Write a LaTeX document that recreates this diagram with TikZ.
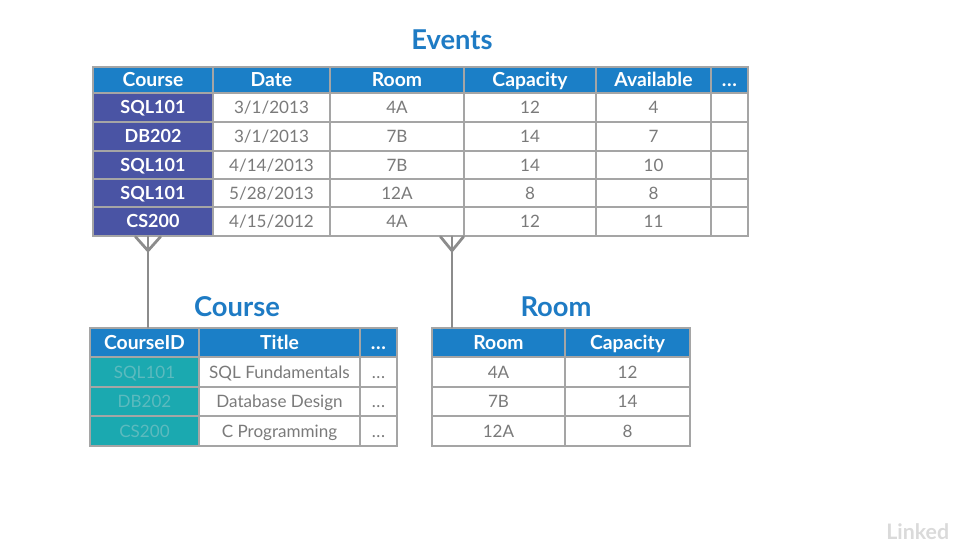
\documentclass[tikz,border=0pt]{standalone}
\usepackage{fontspec}
\setmainfont{Lato}
\definecolor{hdrblue}{HTML}{1B7FC7}
\definecolor{titleblue}{HTML}{1E7BC4}
\definecolor{keypurple}{HTML}{4A54A4}
\definecolor{keyteal}{HTML}{1BA9B0}
\definecolor{tealtext}{HTML}{5CBABE}
\definecolor{bodygray}{HTML}{7A7A7A}
\definecolor{bordergray}{HTML}{A5A5A5}
\definecolor{linkgray}{HTML}{8C8C8C}
\definecolor{wmgray}{HTML}{DADADA}
\newcommand\tcell[7]{\node[cellbox,#6,minimum width={(#4-#2)*0.75pt},minimum height={(#5-#3)*0.75pt}] (#1) at ({(#2+#4)/2},{(#3+#5)/2}) {#7};}
\newcommand\dotsx{{.}\kern0.5pt{.}\kern0.5pt{.}}
\tikzset{
  cellbox/.style={draw=bordergray,line width=1.1pt,rectangle,inner sep=0pt,font=\fontsize{12.8}{14}\selectfont,text=bodygray,fill=white,text height=9.2pt,text depth=0pt},
  hdr/.style={fill=hdrblue,text=white,font=\fontsize{14.5}{16}\selectfont\bfseries,text height=10.4pt},
  keyp/.style={fill=keypurple,text=white,font=\fontsize{13.5}{15}\selectfont\bfseries,text height=9.7pt},
  keyt/.style={fill=keyteal,text=tealtext,font=\fontsize{12.8}{14}\selectfont},
  tabtitle/.style={text=titleblue,font=\fontsize{20.5}{23}\selectfont\bfseries},
  link/.style={draw=linkgray,line width=2.1pt,line cap=round,line join=round},
}
\begin{document}
\begin{tikzpicture}[x=0.75pt,y=-0.75pt]
\useasboundingbox (0,0) rectangle (957,546);
% titles
\node[tabtitle] (tEvents) at (452,40) {Events};
\node[tabtitle] (tCourse) at (237,307) {Course};
\node[tabtitle] (tRoom) at (556,307) {Room};
% Events table
\tcell{e01}{93}{67}{213}{93}{hdr}{Course}
\tcell{e02}{213}{67}{330}{93}{hdr}{Date}
\tcell{e03}{330}{67}{464}{93}{hdr}{Room}
\tcell{e04}{464}{67}{596}{93}{hdr}{Capacity}
\tcell{e05}{596}{67}{711}{93}{hdr}{Available}
\tcell{e06}{711}{67}{748}{93}{hdr}{\dotsx}
\tcell{e11}{93}{93}{213}{122}{keyp}{SQL101}
\tcell{e12}{213}{93}{330}{122}{}{3/1/2013}
\tcell{e13}{330}{93}{464}{122}{}{4A}
\tcell{e14}{464}{93}{596}{122}{}{12}
\tcell{e15}{596}{93}{711}{122}{}{4}
\tcell{e16}{711}{93}{748}{122}{}{}
\tcell{e21}{93}{122}{213}{151}{keyp}{DB202}
\tcell{e22}{213}{122}{330}{151}{}{3/1/2013}
\tcell{e23}{330}{122}{464}{151}{}{7B}
\tcell{e24}{464}{122}{596}{151}{}{14}
\tcell{e25}{596}{122}{711}{151}{}{7}
\tcell{e26}{711}{122}{748}{151}{}{}
\tcell{e31}{93}{151}{213}{179}{keyp}{SQL101}
\tcell{e32}{213}{151}{330}{179}{}{4/14/2013}
\tcell{e33}{330}{151}{464}{179}{}{7B}
\tcell{e34}{464}{151}{596}{179}{}{14}
\tcell{e35}{596}{151}{711}{179}{}{10}
\tcell{e36}{711}{151}{748}{179}{}{}
\tcell{e41}{93}{179}{213}{207}{keyp}{SQL101}
\tcell{e42}{213}{179}{330}{207}{}{5/28/2013}
\tcell{e43}{330}{179}{464}{207}{}{12A}
\tcell{e44}{464}{179}{596}{207}{}{8}
\tcell{e45}{596}{179}{711}{207}{}{8}
\tcell{e46}{711}{179}{748}{207}{}{}
\tcell{e51}{93}{207}{213}{236}{keyp}{CS200}
\tcell{e52}{213}{207}{330}{236}{}{4/15/2012}
\tcell{e53}{330}{207}{464}{236}{}{4A}
\tcell{e54}{464}{207}{596}{236}{}{12}
\tcell{e55}{596}{207}{711}{236}{}{11}
\tcell{e56}{711}{207}{748}{236}{}{}
% Course table
\tcell{c01}{90}{328}{199}{357}{hdr}{CourseID}
\tcell{c02}{199}{328}{360}{357}{hdr}{Title}
\tcell{c03}{360}{328}{397}{357}{hdr}{\dotsx}
\tcell{c11}{90}{357}{199}{387}{keyt}{SQL101}
\tcell{c12}{199}{357}{360}{387}{}{SQL Fundamentals}
\tcell{c13}{360}{357}{397}{387}{}{\dotsx}
\tcell{c21}{90}{387}{199}{416}{keyt}{DB202}
\tcell{c22}{199}{387}{360}{416}{}{Database Design}
\tcell{c23}{360}{387}{397}{416}{}{\dotsx}
\tcell{c31}{90}{416}{199}{446}{keyt}{CS200}
\tcell{c32}{199}{416}{360}{446}{}{C Programming}
\tcell{c33}{360}{416}{397}{446}{}{\dotsx}
% Room table
\tcell{r01}{432}{328}{565}{357}{hdr}{Room}
\tcell{r02}{565}{328}{690}{357}{hdr}{Capacity}
\tcell{r11}{432}{357}{565}{387}{}{4A}
\tcell{r12}{565}{357}{690}{387}{}{12}
\tcell{r21}{432}{387}{565}{416}{}{7B}
\tcell{r22}{565}{387}{690}{416}{}{14}
\tcell{r31}{432}{416}{565}{446}{}{12A}
\tcell{r32}{565}{416}{690}{446}{}{8}
% connectors with crow's feet
\coordinate (fkc) at (148,0);
\coordinate (fkr) at (452,0);
\draw[link] (e51.south -| fkc) -- (c01.north -| fkc);
\draw[link] ([xshift=-12.5*0.75pt]e51.south -| fkc) -- ([yshift=-14*0.75pt]e51.south -| fkc) -- ([xshift=12.5*0.75pt]e51.south -| fkc);
\draw[link] (e53.south -| fkr) -- (r01.north -| fkr);
\draw[link] ([xshift=-11.5*0.75pt]e53.south -| fkr) -- ([yshift=-14*0.75pt]e53.south -| fkr) -- ([xshift=11.5*0.75pt]e53.south -| fkr);
% watermark
\node[anchor=base west,text=wmgray,font=\fontsize{16}{18}\selectfont\bfseries,inner sep=0pt] (wm) at (886,539) {Linked};
\end{tikzpicture}
\end{document}
